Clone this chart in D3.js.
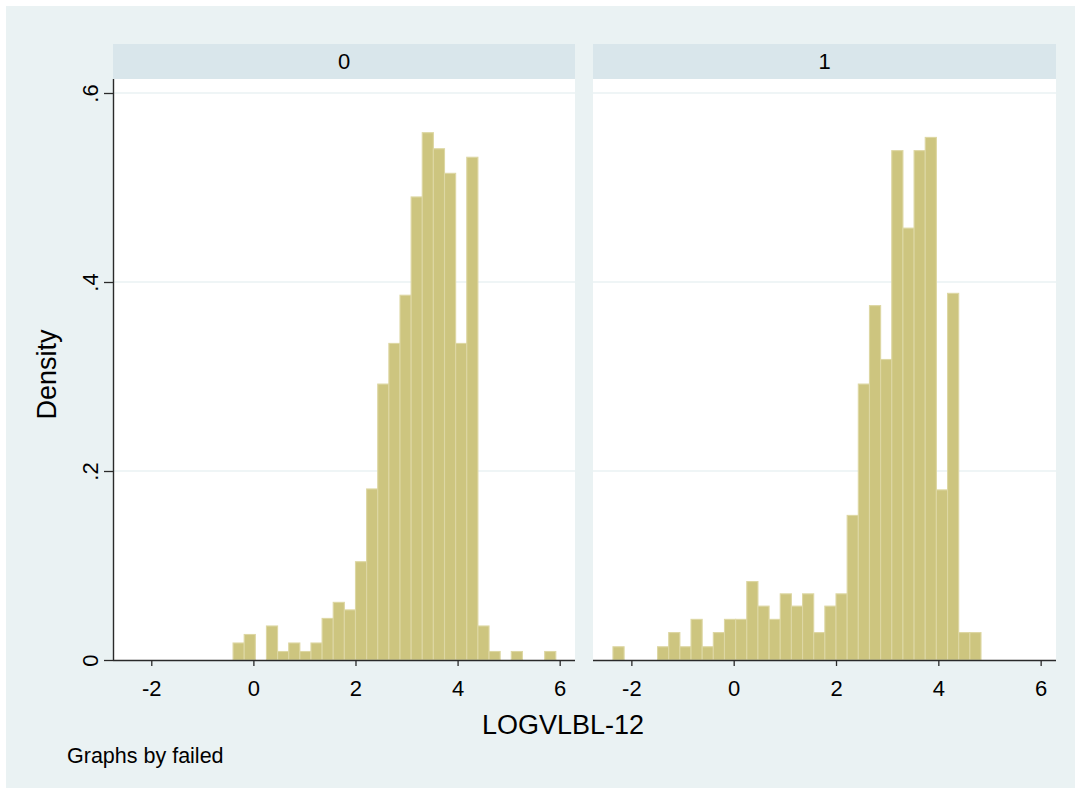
<!DOCTYPE html>
<html>
<head>
<meta charset="utf-8">
<script src="https://cdn.jsdelivr.net/npm/d3@7"></script>
<style>
  html, body { margin: 0; padding: 0; background: #ffffff; }
  svg { display: block; font-family: "Liberation Sans", Arial, sans-serif; }
</style>
</head>
<body>
<svg id="chart" width="1081" height="794"></svg>
<script>
// Histogram bins shared by both panels
const binStart = -2.36;
const binWidth = 0.218;

// Density per bin, failed = 0
const density0 = [
  0, 0, 0, 0, 0, 0, 0, 0, 0,
  0.018, 0.027, 0, 0.036, 0.009, 0.018, 0.009, 0.018, 0.044, 0.061, 0.053,
  0.104, 0.181, 0.292, 0.335, 0.386, 0.490, 0.558, 0.541, 0.515, 0.335,
  0.532, 0.036, 0.009, 0, 0.009, 0, 0, 0.009
];

// Density per bin, failed = 1
const density1 = [
  0.014, 0, 0, 0, 0.014, 0.029, 0.014, 0.043, 0.014, 0.029,
  0.043, 0.043, 0.083, 0.057, 0.043, 0.070, 0.057, 0.070, 0.029, 0.057,
  0.070, 0.153, 0.292, 0.375, 0.318, 0.539, 0.457, 0.539, 0.553, 0.180,
  0.388, 0.029, 0.029, 0, 0, 0, 0, 0
];

const panelLabels = ["0", "1"];
const xTicks = [-2, 0, 2, 4, 6];
const yTicks = [0, 0.2, 0.4, 0.6];
const yTickLabels = ["0", ".2", ".4", ".6"];

const svg = d3.select("#chart");

// Colours
const outerBg = "#eaf2f3";
const stripBg = "#d9e6eb";
const barFill = "#cdc57f";
const barStroke = "#ddd7a3";
const axisColor = "#2a2a2a";

// Outer graph region
svg.append("rect").attr("x", 6).attr("y", 6).attr("width", 1069).attr("height", 782)
  .attr("fill", outerBg);

const plotTop = 79, plotBottom = 660;
const stripTop = 44;
const panels = [
  { x0: 113, x1: 575, data: density0, label: panelLabels[0], yAxis: true },
  { x0: 593, x1: 1056, data: density1, label: panelLabels[1], yAxis: false }
];

const y = d3.scaleLinear().domain([0, 0.6]).range([plotBottom, 93]);

panels.forEach(p => {
  const x = d3.scaleLinear().domain([-2.75, 6.3]).range([p.x0, p.x1]);
  const g = svg.append("g");

  // Plot area
  g.append("rect").attr("x", p.x0).attr("y", plotTop)
    .attr("width", p.x1 - p.x0).attr("height", plotBottom - plotTop)
    .attr("fill", "#ffffff");

  // Strip with panel label
  g.append("rect").attr("x", p.x0).attr("y", stripTop)
    .attr("width", p.x1 - p.x0).attr("height", plotTop - stripTop)
    .attr("fill", stripBg);
  g.append("text").attr("x", (p.x0 + p.x1) / 2).attr("y", (stripTop + plotTop) / 2)
    .attr("dy", "0.35em").attr("text-anchor", "middle")
    .attr("font-size", 22).attr("fill", "#000").text(p.label);

  // Horizontal grid lines
  g.selectAll("line.grid").data(yTicks.filter(t => t > 0)).join("line")
    .attr("class", "grid")
    .attr("x1", p.x0).attr("x2", p.x1)
    .attr("y1", d => y(d)).attr("y2", d => y(d))
    .attr("stroke", outerBg).attr("stroke-width", 1.3);

  // Bars
  const bins = p.data.map((d, i) => ({
    lo: binStart + i * binWidth,
    hi: binStart + (i + 1) * binWidth,
    v: d
  })).filter(b => b.v > 0);
  g.selectAll("rect.bar").data(bins).join("rect")
    .attr("class", "bar")
    .attr("x", d => x(d.lo))
    .attr("width", d => x(d.hi) - x(d.lo))
    .attr("y", d => y(d.v))
    .attr("height", d => y(0) - y(d.v))
    .attr("fill", barFill)
    .attr("stroke", barStroke)
    .attr("stroke-width", 1.1);

  // X axis
  const xAxis = d3.axisBottom(x).tickValues(xTicks).tickSize(6).tickPadding(6)
    .tickFormat(d => d < 0 ? "-" + Math.abs(d) : String(d));
  const ax = g.append("g").attr("transform", `translate(0,${plotBottom})`).call(xAxis);
  ax.select(".domain").attr("d", `M${p.x0},0.5H${p.x1}`)
    .attr("stroke", axisColor).attr("stroke-width", 1.4);
  ax.selectAll(".tick line").attr("stroke", axisColor).attr("stroke-width", 1.3);
  ax.selectAll(".tick text").attr("font-size", 22).attr("fill", "#000")
    .attr("font-family", "Liberation Sans, Arial, sans-serif")
    .attr("y", 28).attr("dy", "0.35em");

  // Y axis on the first panel only
  if (p.yAxis) {
    const yAxis = d3.axisLeft(y).tickValues(yTicks).tickSize(9).tickPadding(0)
      .tickFormat((d, i) => yTickLabels[i]);
    const ay = g.append("g").attr("transform", `translate(${p.x0},0)`).call(yAxis);
    ay.select(".domain").attr("d", `M0.5,${plotTop}V${plotBottom}`)
      .attr("stroke", axisColor).attr("stroke-width", 1.4);
    ay.selectAll(".tick line").attr("stroke", axisColor).attr("stroke-width", 1.3)
      .attr("x1", -9).attr("x2", 0);
    ay.selectAll(".tick text")
      .attr("font-size", 22).attr("fill", "#000")
      .attr("font-family", "Liberation Sans, Arial, sans-serif")
      .attr("text-anchor", "middle")
      .attr("x", null).attr("dy", null)
      .attr("transform", "translate(-21,0) rotate(-90)")
      .attr("y", 0)
      .attr("dominant-baseline", "middle");
  }
});

// Axis titles and note
svg.append("text").attr("x", 563).attr("y", 725).attr("dy", "0.35em")
  .attr("text-anchor", "middle").attr("font-size", 27).attr("fill", "#000")
  .text("LOGVLBL-12");

svg.append("text")
  .attr("transform", `translate(47,${(plotTop + plotBottom) / 2 + 5}) rotate(-90)`)
  .attr("dy", "0.35em").attr("text-anchor", "middle")
  .attr("font-size", 27).attr("fill", "#000").text("Density");

svg.append("text").attr("x", 67).attr("y", 755).attr("dy", "0.35em")
  .attr("font-size", 21.5).attr("fill", "#000").text("Graphs by failed");
</script>
</body>
</html>
